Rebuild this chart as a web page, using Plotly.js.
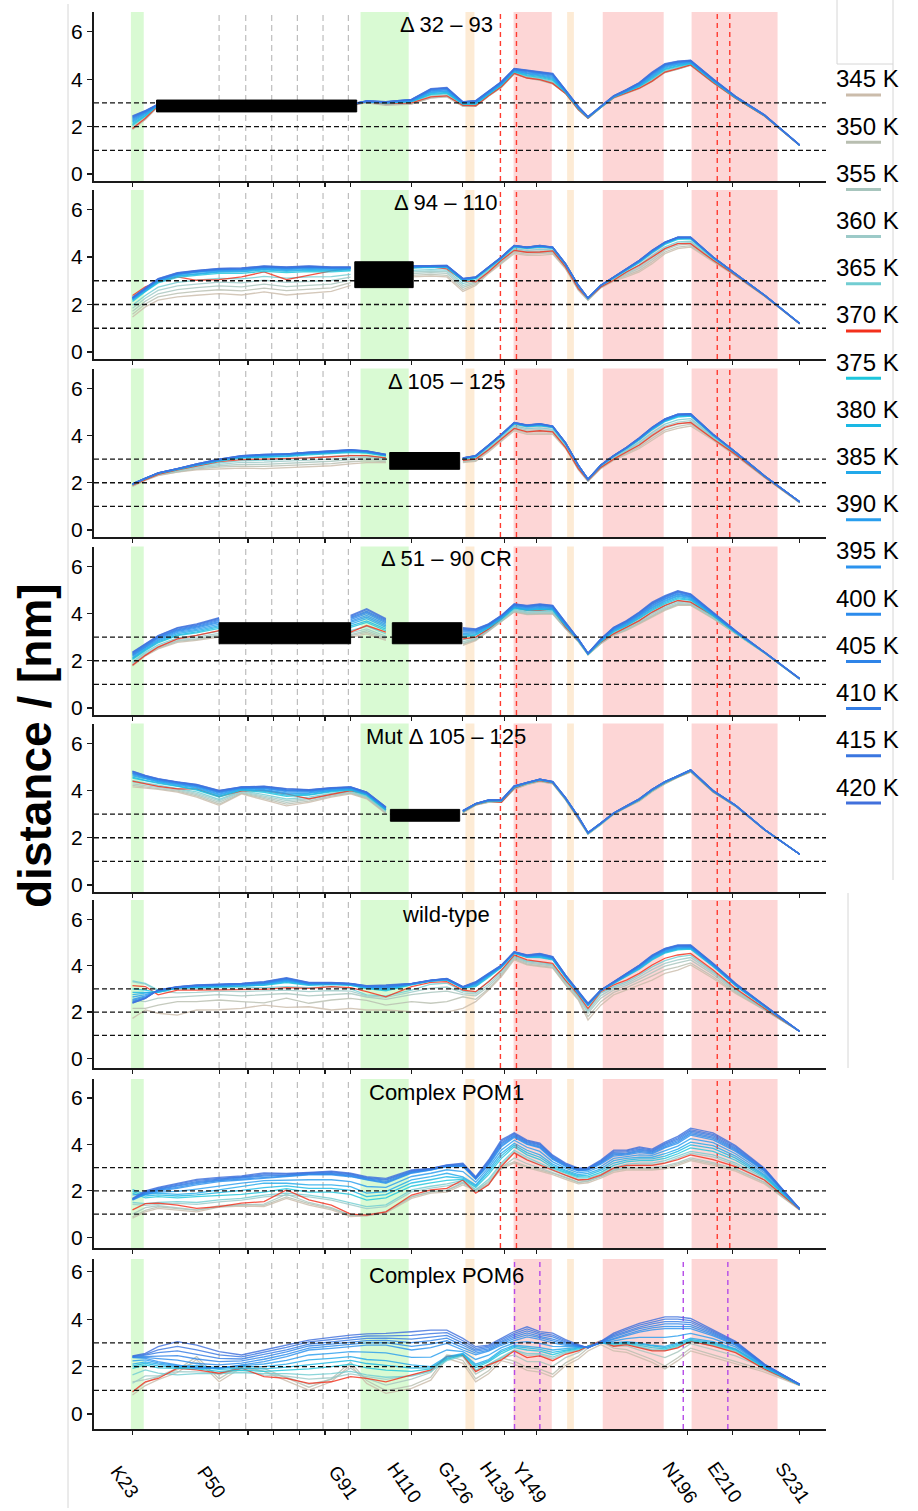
<!DOCTYPE html>
<html><head><meta charset="utf-8">
<script src="https://cdn.plot.ly/plotly-3.0.1.min.js"></script>
<style>html,body{margin:0;padding:0;background:#fff}#chart{width:918px;height:1511px}</style>
</head><body><div id="chart"></div>
<script>
const _ = null;
const residues = [23,27,31,37,43,50,57,64,71,78,85,91,96,102,110,116,121,126,130,134,138,142,146,150,154,158,162,165,169,173,177,181,185,189,193,197,204,211,220,231];
const temperatures = ['345 K','350 K','355 K','360 K','365 K','370 K','375 K','380 K','385 K','390 K','395 K','400 K','405 K','410 K','415 K','420 K'];
const lineColors = ['#cbbcab','#b8beb0','#a7c5bd','#9ccac8','#72cdd2','#f3301c','#1ec6dc','#1ab8e4','#22a9ea','#299eee','#2c93ee','#2b8bec','#2f84e8','#347de4','#3a76e0','#4170dc'];
const tickResidues = [23,50,59,67,75,83,91,110,126,139,149,196,210,231];
const tickLabels = ['K23','P50','','','','','G91','H110','G126','H139','Y149','N196','E210','S231'];
const panelTitles = ['Δ 32 – 93','Δ 94 – 110','Δ 105 – 125','Δ 51 – 90 CR','Mut Δ 105 – 125','wild-type','Complex POM1','Complex POM6'];
const greenBands = [[22.5,26.5],[94.1,109.1]];
const orangeBands = [[126.8,129.6],[158.5,160.6]];
const redBands = [[141.8,153.7],[169.6,188.6],[197.3,224.1]];
const octaLines = [50,58.3,66.4,74.4,82.4,90.3];
const redMarks = [137.7,142.7,205.3,209.2];
const purpleMarks = [142.1,150,194.7,208.6];
const deletions = [
  [[30.5,92.9,2.62,3.12]],
  [[92.3,110.5,2.71,3.8]],
  [[103.2,125,2.57,3.28]],
  [[50,91,2.72,3.61],[104,125.7,2.72,3.61]],
  [[103.4,125,2.7,3.2]],
  [],[],[]
];

const d32_93 = [
[1.88,2.30,2.85,_,_,_,_,_,_,_,_,2.90,3.00,2.90,2.95,3.20,3.25,2.85,2.85,3.28,3.65,4.22,4.05,3.95,3.80,3.40,2.70,2.35,2.80,3.20,3.40,3.60,3.90,4.28,4.42,4.58,3.85,3.20,2.45,1.20],
[1.90,2.31,2.86,_,_,_,_,_,_,_,_,2.90,3.01,2.92,2.96,3.21,3.27,2.86,2.86,3.29,3.66,4.23,4.06,3.96,3.81,3.40,2.71,2.35,2.81,3.21,3.41,3.61,3.91,4.29,4.43,4.59,3.85,3.20,2.45,1.20],
[1.93,2.34,2.87,_,_,_,_,_,_,_,_,2.91,3.02,2.93,2.98,3.24,3.29,2.88,2.87,3.30,3.67,4.24,4.07,3.98,3.83,3.41,2.72,2.36,2.82,3.22,3.42,3.63,3.93,4.31,4.45,4.60,3.86,3.21,2.46,1.20],
[2.00,2.40,2.89,_,_,_,_,_,_,_,_,2.91,3.04,2.97,3.02,3.30,3.34,2.92,2.90,3.32,3.70,4.27,4.09,4.01,3.86,3.42,2.74,2.37,2.83,3.23,3.44,3.66,3.96,4.34,4.48,4.62,3.88,3.22,2.46,1.21],
[2.05,2.44,2.90,_,_,_,_,_,_,_,_,2.92,3.05,2.99,3.04,3.34,3.38,2.95,2.93,3.34,3.72,4.29,4.12,4.04,3.89,3.43,2.75,2.38,2.83,3.24,3.46,3.68,3.99,4.37,4.50,4.63,3.89,3.22,2.47,1.21],
[1.92,2.35,2.88,_,_,_,_,_,_,_,_,2.90,3.04,2.97,3.00,3.25,3.30,2.90,2.88,3.30,3.68,4.25,4.05,3.98,3.82,3.40,2.72,2.36,2.82,3.22,3.42,3.62,3.92,4.30,4.45,4.60,3.86,3.20,2.45,1.20],
[2.08,2.45,2.90,_,_,_,_,_,_,_,_,2.92,3.05,2.99,3.05,3.36,3.41,2.95,2.95,3.36,3.75,4.31,4.15,4.08,3.95,3.45,2.76,2.38,2.83,3.24,3.46,3.69,4.03,4.41,4.54,4.66,3.91,3.22,2.47,1.21],
[2.13,2.48,2.91,_,_,_,_,_,_,_,_,2.92,3.05,3.00,3.06,3.39,3.44,2.96,2.97,3.38,3.77,4.33,4.18,4.12,3.99,3.46,2.77,2.38,2.84,3.25,3.48,3.72,4.07,4.44,4.57,4.68,3.92,3.23,2.47,1.21],
[2.19,2.52,2.92,_,_,_,_,_,_,_,_,2.93,3.06,3.01,3.08,3.43,3.48,2.98,2.99,3.40,3.79,4.35,4.22,4.15,4.04,3.48,2.79,2.39,2.84,3.26,3.49,3.74,4.11,4.48,4.61,4.70,3.94,3.24,2.48,1.21],
[2.24,2.55,2.92,_,_,_,_,_,_,_,_,2.93,3.06,3.02,3.09,3.46,3.51,2.99,3.01,3.42,3.81,4.37,4.25,4.18,4.08,3.49,2.80,2.40,2.84,3.27,3.50,3.76,4.15,4.52,4.64,4.72,3.96,3.25,2.48,1.21],
[2.29,2.58,2.93,_,_,_,_,_,_,_,_,2.94,3.07,3.03,3.11,3.50,3.55,3.01,3.03,3.44,3.83,4.39,4.28,4.22,4.12,3.51,2.81,2.40,2.85,3.28,3.52,3.79,4.19,4.55,4.67,4.74,3.97,3.26,2.49,1.21],
[2.33,2.61,2.93,_,_,_,_,_,_,_,_,2.94,3.07,3.03,3.12,3.52,3.57,3.02,3.05,3.46,3.85,4.41,4.31,4.25,4.16,3.52,2.82,2.41,2.85,3.28,3.53,3.81,4.22,4.58,4.69,4.76,3.98,3.26,2.49,1.22],
[2.37,2.63,2.94,_,_,_,_,_,_,_,_,2.94,3.07,3.04,3.13,3.55,3.60,3.03,3.07,3.47,3.87,4.42,4.33,4.27,4.19,3.53,2.83,2.41,2.85,3.29,3.54,3.82,4.24,4.61,4.71,4.77,4.00,3.27,2.49,1.22],
[2.40,2.65,2.94,_,_,_,_,_,_,_,_,2.95,3.08,3.04,3.14,3.57,3.62,3.04,3.08,3.48,3.88,4.43,4.35,4.29,4.21,3.54,2.84,2.42,2.86,3.29,3.55,3.84,4.26,4.62,4.73,4.78,4.00,3.27,2.50,1.22],
[2.43,2.66,2.95,_,_,_,_,_,_,_,_,2.95,3.08,3.05,3.15,3.58,3.63,3.04,3.09,3.49,3.89,4.44,4.37,4.31,4.23,3.55,2.85,2.42,2.86,3.30,3.56,3.85,4.28,4.64,4.75,4.79,4.01,3.28,2.50,1.22],
[2.45,2.68,2.95,_,_,_,_,_,_,_,_,2.95,3.08,3.05,3.15,3.60,3.65,3.05,3.10,3.50,3.90,4.45,4.38,4.32,4.25,3.55,2.85,2.42,2.86,3.30,3.56,3.86,4.30,4.66,4.76,4.80,4.02,3.28,2.50,1.22]
];

const d94_110 = [
[1.47,1.90,2.18,2.32,2.39,2.46,2.40,2.53,2.40,2.46,2.55,2.80,_,_,3.16,3.20,3.16,2.55,2.80,3.30,3.72,4.14,4.07,4.07,4.12,3.50,2.60,2.18,2.70,2.98,3.16,3.37,3.72,4.14,4.35,4.42,3.80,3.20,2.35,1.18],
[1.59,2.02,2.32,2.47,2.55,2.62,2.57,2.69,2.58,2.63,2.70,2.92,_,_,3.23,3.27,3.23,2.63,2.85,3.34,3.76,4.19,4.12,4.13,4.17,3.53,2.63,2.19,2.72,3.01,3.21,3.44,3.80,4.21,4.42,4.48,3.83,3.22,2.36,1.18],
[1.72,2.14,2.45,2.63,2.71,2.78,2.74,2.86,2.75,2.81,2.86,3.03,_,_,3.30,3.34,3.31,2.72,2.91,3.38,3.80,4.25,4.18,4.20,4.21,3.57,2.66,2.21,2.73,3.03,3.27,3.52,3.89,4.29,4.50,4.55,3.86,3.23,2.37,1.19],
[1.84,2.26,2.59,2.78,2.86,2.94,2.91,3.02,2.93,2.98,3.01,3.15,_,_,3.37,3.40,3.38,2.80,2.96,3.43,3.85,4.30,4.23,4.26,4.26,3.60,2.69,2.22,2.75,3.06,3.32,3.59,3.97,4.36,4.57,4.61,3.89,3.25,2.37,1.19],
[1.97,2.38,2.73,2.93,3.02,3.10,3.08,3.18,3.11,3.16,3.17,3.27,_,_,3.44,3.47,3.45,2.88,3.02,3.47,3.89,4.35,4.28,4.32,4.30,3.63,2.73,2.23,2.77,3.09,3.37,3.66,4.06,4.43,4.64,4.67,3.92,3.26,2.38,1.19],
[2.38,2.74,2.95,3.16,3.02,3.05,3.16,3.37,3.05,3.25,3.42,3.52,_,_,3.55,3.58,3.50,3.02,2.95,3.37,3.86,4.28,4.20,4.21,4.26,3.58,2.67,2.25,2.74,3.02,3.37,3.65,4.00,4.35,4.56,4.56,3.86,3.23,2.37,1.19],
[2.13,2.54,2.91,3.14,3.23,3.31,3.31,3.40,3.34,3.39,3.37,3.42,_,_,3.53,3.56,3.55,2.99,3.09,3.52,3.94,4.42,4.35,4.41,4.36,3.68,2.77,2.25,2.79,3.12,3.44,3.76,4.17,4.53,4.74,4.76,3.96,3.28,2.39,1.20],
[2.18,2.58,2.95,3.19,3.28,3.36,3.37,3.46,3.40,3.45,3.43,3.46,_,_,3.55,3.58,3.58,3.02,3.11,3.54,3.96,4.44,4.37,4.43,4.38,3.69,2.78,2.26,2.80,3.13,3.46,3.79,4.20,4.56,4.77,4.78,3.97,3.28,2.39,1.20],
[2.20,2.60,2.98,3.22,3.31,3.39,3.40,3.49,3.44,3.48,3.46,3.49,_,_,3.56,3.60,3.59,3.03,3.12,3.55,3.97,4.45,4.38,4.44,4.38,3.69,2.78,2.26,2.80,3.14,3.47,3.80,4.21,4.57,4.78,4.79,3.98,3.29,2.39,1.20],
[2.23,2.63,3.01,3.25,3.35,3.42,3.44,3.52,3.47,3.52,3.49,3.51,_,_,3.58,3.61,3.61,3.05,3.13,3.55,3.97,4.46,4.39,4.45,4.39,3.70,2.79,2.26,2.80,3.14,3.48,3.82,4.23,4.59,4.80,4.80,3.98,3.29,2.40,1.20],
[2.24,2.64,3.03,3.27,3.37,3.45,3.46,3.54,3.50,3.54,3.51,3.53,_,_,3.59,3.62,3.62,3.06,3.13,3.56,3.98,4.47,4.40,4.46,4.40,3.70,2.80,2.26,2.80,3.15,3.49,3.83,4.24,4.60,4.81,4.81,3.99,3.29,2.40,1.20],
[2.26,2.66,3.04,3.29,3.39,3.47,3.48,3.57,3.52,3.56,3.53,3.54,_,_,3.60,3.63,3.63,3.07,3.14,3.57,3.99,4.47,4.40,4.47,4.41,3.71,2.80,2.27,2.80,3.15,3.49,3.84,4.25,4.61,4.82,4.82,3.99,3.30,2.40,1.20],
[2.27,2.67,3.05,3.30,3.40,3.48,3.49,3.58,3.53,3.57,3.54,3.55,_,_,3.60,3.63,3.63,3.08,3.14,3.57,3.99,4.48,4.41,4.47,4.41,3.71,2.80,2.27,2.81,3.15,3.50,3.84,4.26,4.61,4.82,4.82,4.00,3.30,2.40,1.20],
[2.28,2.68,3.06,3.31,3.41,3.49,3.51,3.59,3.55,3.59,3.55,3.56,_,_,3.61,3.64,3.64,3.08,3.15,3.58,4.00,4.48,4.41,4.48,4.41,3.71,2.81,2.27,2.81,3.16,3.50,3.85,4.27,4.62,4.83,4.83,4.00,3.30,2.40,1.20],
[2.29,2.69,3.08,3.33,3.43,3.51,3.53,3.61,3.57,3.61,3.57,3.57,_,_,3.62,3.65,3.65,3.09,3.16,3.58,4.00,4.49,4.42,4.49,4.42,3.72,2.81,2.27,2.81,3.16,3.51,3.86,4.28,4.63,4.84,4.84,4.00,3.30,2.40,1.20],
[2.30,2.70,3.09,3.34,3.44,3.52,3.54,3.62,3.58,3.62,3.58,3.58,_,_,3.62,3.65,3.65,3.10,3.16,3.58,4.00,4.49,4.42,4.49,4.42,3.72,2.81,2.27,2.81,3.16,3.51,3.86,4.28,4.63,4.84,4.84,4.00,3.30,2.40,1.20]
];

const d105_125 = [
[1.85,2.10,2.30,2.45,2.55,2.60,2.62,2.60,2.65,2.70,2.72,2.80,2.85,2.85,_,_,_,2.85,2.90,3.30,3.75,4.20,4.05,4.05,4.05,3.45,2.55,2.05,2.60,2.95,3.20,3.45,3.80,4.15,4.30,4.40,3.80,3.15,2.22,1.15],
[1.87,2.12,2.32,2.47,2.59,2.66,2.70,2.69,2.74,2.79,2.81,2.89,2.93,2.90,_,_,_,2.88,2.94,3.35,3.80,4.25,4.11,4.12,4.10,3.49,2.58,2.07,2.62,2.98,3.25,3.52,3.88,4.23,4.39,4.48,3.84,3.17,2.23,1.16],
[1.88,2.13,2.34,2.50,2.63,2.72,2.78,2.78,2.82,2.88,2.91,2.98,3.00,2.96,_,_,_,2.91,2.98,3.39,3.84,4.31,4.17,4.19,4.16,3.53,2.61,2.08,2.65,3.01,3.29,3.59,3.97,4.32,4.48,4.56,3.88,3.20,2.24,1.17],
[1.90,2.15,2.35,2.52,2.66,2.78,2.86,2.87,2.91,2.97,3.00,3.07,3.08,3.01,_,_,_,2.94,3.01,3.44,3.89,4.36,4.23,4.25,4.21,3.56,2.64,2.10,2.67,3.04,3.34,3.65,4.05,4.40,4.57,4.63,3.91,3.22,2.26,1.17],
[1.91,2.16,2.37,2.54,2.70,2.84,2.94,2.96,2.99,3.06,3.10,3.16,3.15,3.06,_,_,_,2.97,3.05,3.48,3.93,4.41,4.29,4.32,4.26,3.60,2.67,2.11,2.69,3.07,3.38,3.72,4.13,4.48,4.66,4.71,3.95,3.24,2.27,1.18],
[1.90,2.12,2.35,2.55,2.70,2.90,2.98,3.00,3.05,3.05,3.10,3.15,3.15,3.05,_,_,_,2.95,3.00,3.40,3.85,4.30,4.15,4.20,4.15,3.50,2.60,2.10,2.65,3.00,3.30,3.60,4.00,4.35,4.50,4.55,3.85,3.20,2.25,1.18],
[1.93,2.18,2.40,2.57,2.75,2.92,3.04,3.08,3.11,3.18,3.22,3.28,3.25,3.13,_,_,_,3.01,3.10,3.54,3.99,4.48,4.37,4.41,4.33,3.65,2.71,2.13,2.72,3.11,3.44,3.81,4.24,4.59,4.78,4.82,4.00,3.27,2.28,1.19],
[1.94,2.19,2.40,2.58,2.76,2.94,3.07,3.11,3.13,3.21,3.26,3.31,3.28,3.15,_,_,_,3.02,3.11,3.56,4.01,4.50,4.39,4.43,4.35,3.66,2.72,2.14,2.73,3.12,3.46,3.83,4.27,4.62,4.81,4.84,4.01,3.28,2.29,1.19],
[1.94,2.19,2.41,2.58,2.77,2.95,3.09,3.13,3.15,3.23,3.27,3.33,3.29,3.16,_,_,_,3.03,3.12,3.56,4.01,4.51,4.40,4.45,4.36,3.67,2.73,2.14,2.73,3.13,3.46,3.85,4.28,4.63,4.83,4.86,4.02,3.28,2.29,1.19],
[1.94,2.19,2.41,2.59,2.78,2.96,3.10,3.15,3.17,3.25,3.29,3.35,3.31,3.17,_,_,_,3.03,3.13,3.57,4.02,4.52,4.41,4.46,4.37,3.68,2.73,2.14,2.74,3.13,3.47,3.86,4.30,4.65,4.85,4.87,4.03,3.29,2.29,1.20],
[1.95,2.20,2.41,2.59,2.78,2.97,3.11,3.16,3.18,3.26,3.30,3.36,3.32,3.18,_,_,_,3.04,3.13,3.58,4.03,4.53,4.42,4.47,4.38,3.68,2.74,2.14,2.74,3.14,3.48,3.87,4.31,4.66,4.86,4.88,4.03,3.29,2.29,1.20],
[1.95,2.20,2.41,2.59,2.79,2.98,3.12,3.17,3.19,3.27,3.31,3.37,3.33,3.18,_,_,_,3.04,3.14,3.58,4.03,4.53,4.43,4.48,4.38,3.69,2.74,2.15,2.74,3.14,3.48,3.88,4.32,4.67,4.87,4.89,4.04,3.29,2.30,1.20],
[1.95,2.20,2.42,2.60,2.79,2.98,3.13,3.18,3.20,3.28,3.32,3.38,3.33,3.19,_,_,_,3.04,3.14,3.59,4.04,4.54,4.43,4.48,4.39,3.69,2.74,2.15,2.75,3.14,3.49,3.88,4.33,4.68,4.88,4.90,4.04,3.30,2.30,1.20],
[1.95,2.20,2.42,2.60,2.80,2.99,3.14,3.19,3.21,3.29,3.33,3.39,3.34,3.19,_,_,_,3.05,3.15,3.59,4.04,4.54,4.44,4.49,4.39,3.70,2.75,2.15,2.75,3.15,3.49,3.89,4.34,4.69,4.89,4.91,4.05,3.30,2.30,1.20],
[1.95,2.20,2.42,2.60,2.80,3.00,3.15,3.20,3.22,3.30,3.34,3.39,3.35,3.20,_,_,_,3.05,3.15,3.60,4.05,4.55,4.44,4.50,4.40,3.70,2.75,2.15,2.75,3.15,3.50,3.90,4.35,4.70,4.90,4.92,4.05,3.30,2.30,1.20],
[1.95,2.20,2.42,2.60,2.80,3.00,3.15,3.20,3.22,3.30,3.35,3.40,3.35,3.20,_,_,_,3.05,3.15,3.60,4.05,4.55,4.45,4.50,4.40,3.70,2.75,2.15,2.75,3.15,3.50,3.90,4.35,4.70,4.90,4.92,4.05,3.30,2.30,1.20]
];

const d51_90cr = [
[1.78,2.20,2.50,2.78,2.86,3.00,_,_,_,_,_,3.00,3.14,2.86,_,_,_,2.65,2.85,3.25,3.65,4.06,3.95,3.95,3.98,3.35,2.80,2.25,2.72,3.07,3.28,3.56,3.85,4.13,4.34,4.34,3.78,3.14,2.33,1.22],
[1.82,2.23,2.53,2.82,2.90,3.05,_,_,_,_,_,3.06,3.20,2.92,_,_,_,2.70,2.88,3.27,3.67,4.08,3.97,3.98,4.00,3.37,2.81,2.25,2.73,3.09,3.31,3.59,3.89,4.17,4.38,4.37,3.80,3.15,2.33,1.22],
[1.85,2.26,2.57,2.85,2.94,3.10,_,_,_,_,_,3.11,3.27,2.97,_,_,_,2.74,2.91,3.29,3.68,4.10,4.00,4.01,4.02,3.38,2.82,2.26,2.75,3.11,3.33,3.62,3.93,4.21,4.42,4.40,3.81,3.16,2.33,1.22],
[1.90,2.30,2.61,2.90,3.00,3.16,_,_,_,_,_,3.18,3.35,3.04,_,_,_,2.80,2.95,3.31,3.70,4.13,4.03,4.04,4.05,3.41,2.83,2.26,2.76,3.14,3.36,3.66,3.98,4.26,4.47,4.44,3.84,3.17,2.34,1.23],
[1.96,2.36,2.67,2.97,3.07,3.25,_,_,_,_,_,3.28,3.46,3.14,_,_,_,2.88,3.00,3.34,3.73,4.17,4.07,4.09,4.09,3.43,2.84,2.27,2.78,3.18,3.41,3.71,4.04,4.32,4.53,4.49,3.86,3.18,2.34,1.23],
[1.81,2.23,2.58,2.93,3.07,3.28,_,_,_,_,_,3.21,3.49,3.21,_,_,_,2.93,3.00,3.35,3.78,4.27,4.13,4.13,4.20,3.42,2.86,2.30,2.79,3.14,3.42,3.70,4.06,4.34,4.55,4.48,3.92,3.21,2.35,1.23],
[2.05,2.43,2.76,3.06,3.18,3.37,_,_,_,_,_,3.41,3.62,3.27,_,_,_,2.99,3.08,3.39,3.77,4.22,4.13,4.16,4.14,3.48,2.86,2.28,2.81,3.23,3.47,3.79,4.13,4.41,4.62,4.56,3.91,3.20,2.35,1.23],
[2.09,2.47,2.80,3.10,3.22,3.43,_,_,_,_,_,3.48,3.69,3.34,_,_,_,3.04,3.11,3.41,3.79,4.24,4.15,4.19,4.17,3.50,2.87,2.29,2.83,3.25,3.50,3.82,4.18,4.46,4.67,4.59,3.93,3.21,2.35,1.24],
[2.13,2.51,2.84,3.15,3.28,3.49,_,_,_,_,_,3.55,3.78,3.41,_,_,_,3.10,3.15,3.44,3.81,4.27,4.18,4.23,4.20,3.52,2.88,2.29,2.85,3.28,3.53,3.86,4.23,4.51,4.72,4.63,3.95,3.22,2.35,1.24],
[2.18,2.55,2.88,3.20,3.33,3.55,_,_,_,_,_,3.62,3.85,3.48,_,_,_,3.15,3.19,3.46,3.83,4.29,4.21,4.26,4.22,3.54,2.89,2.30,2.86,3.30,3.56,3.90,4.27,4.55,4.76,4.67,3.97,3.23,2.36,1.24],
[2.22,2.58,2.92,3.24,3.38,3.61,_,_,_,_,_,3.68,3.92,3.54,_,_,_,3.21,3.22,3.48,3.85,4.32,4.24,4.29,4.25,3.56,2.90,2.30,2.88,3.33,3.59,3.93,4.32,4.60,4.81,4.70,3.99,3.24,2.36,1.24],
[2.25,2.62,2.96,3.28,3.42,3.66,_,_,_,_,_,3.74,3.99,3.60,_,_,_,3.25,3.25,3.50,3.87,4.34,4.26,4.32,4.27,3.57,2.90,2.31,2.89,3.35,3.62,3.96,4.35,4.63,4.84,4.73,4.00,3.25,2.36,1.24],
[2.29,2.65,2.99,3.31,3.46,3.71,_,_,_,_,_,3.79,4.05,3.65,_,_,_,3.30,3.28,3.52,3.88,4.36,4.29,4.35,4.29,3.59,2.91,2.31,2.90,3.37,3.64,3.99,4.39,4.67,4.88,4.76,4.02,3.26,2.36,1.25],
[2.32,2.67,3.02,3.34,3.50,3.75,_,_,_,_,_,3.84,4.10,3.70,_,_,_,3.33,3.31,3.53,3.90,4.38,4.30,4.37,4.31,3.60,2.92,2.31,2.91,3.39,3.66,4.02,4.42,4.70,4.91,4.79,4.03,3.27,2.37,1.25],
[2.35,2.70,3.05,3.38,3.53,3.79,_,_,_,_,_,3.88,4.16,3.74,_,_,_,3.37,3.33,3.55,3.91,4.40,4.32,4.39,4.33,3.62,2.92,2.32,2.92,3.41,3.68,4.04,4.45,4.73,4.94,4.81,4.05,3.27,2.37,1.25],
[2.37,2.72,3.07,3.40,3.56,3.82,_,_,_,_,_,3.92,4.20,3.78,_,_,_,3.40,3.35,3.56,3.92,4.41,4.34,4.41,4.34,3.63,2.93,2.32,2.93,3.42,3.70,4.06,4.48,4.76,4.97,4.83,4.06,3.28,2.37,1.25]
];

const mut105_125 = [
[4.15,4.10,4.05,3.93,3.72,3.37,3.86,3.60,3.35,3.50,3.72,3.86,3.65,3.02,_,_,_,3.05,3.38,3.50,3.50,4.05,4.25,4.38,4.28,3.60,2.80,2.15,2.55,3.00,3.28,3.55,3.95,4.28,4.55,4.78,3.93,3.33,2.33,1.30],
[4.22,4.15,4.10,3.97,3.77,3.43,3.89,3.66,3.42,3.55,3.76,3.89,3.68,3.05,_,_,_,3.06,3.39,3.51,3.51,4.06,4.26,4.39,4.29,3.61,2.81,2.16,2.56,3.00,3.29,3.56,3.96,4.29,4.56,4.79,3.94,3.33,2.33,1.30],
[4.28,4.21,4.14,4.02,3.83,3.50,3.92,3.72,3.50,3.61,3.80,3.92,3.71,3.08,_,_,_,3.07,3.39,3.52,3.52,4.08,4.27,4.40,4.30,3.62,2.82,2.16,2.56,3.01,3.29,3.57,3.97,4.30,4.56,4.80,3.94,3.34,2.34,1.30],
[4.35,4.26,4.19,4.06,3.88,3.56,3.95,3.77,3.57,3.66,3.84,3.95,3.73,3.10,_,_,_,3.08,3.40,3.53,3.53,4.09,4.28,4.41,4.31,3.63,2.83,2.17,2.57,3.01,3.30,3.58,3.98,4.31,4.57,4.81,3.95,3.34,2.34,1.30],
[4.42,4.32,4.23,4.10,3.94,3.62,3.98,3.83,3.64,3.72,3.88,3.98,3.76,3.13,_,_,_,3.09,3.41,3.54,3.54,4.11,4.29,4.42,4.32,3.64,2.84,2.18,2.58,3.02,3.31,3.59,3.99,4.32,4.58,4.82,3.96,3.35,2.34,1.30],
[4.40,4.29,4.17,4.07,4.07,3.74,3.98,4.00,3.86,3.65,3.84,4.00,3.86,3.19,_,_,_,3.10,3.40,3.55,3.50,4.10,4.30,4.42,4.32,3.65,2.85,2.20,2.60,3.02,3.30,3.60,4.00,4.33,4.58,4.82,3.95,3.35,2.35,1.30],
[4.52,4.40,4.30,4.17,4.02,3.72,4.02,3.92,3.75,3.80,3.94,4.02,3.80,3.17,_,_,_,3.11,3.42,3.56,3.56,4.13,4.31,4.44,4.34,3.66,2.86,2.19,2.59,3.03,3.32,3.61,4.01,4.34,4.59,4.84,3.97,3.36,2.35,1.30],
[4.57,4.43,4.33,4.20,4.05,3.76,4.04,3.96,3.80,3.83,3.97,4.04,3.82,3.19,_,_,_,3.11,3.42,3.56,3.56,4.14,4.32,4.45,4.34,3.66,2.86,2.19,2.59,3.03,3.32,3.61,4.01,4.34,4.59,4.84,3.97,3.36,2.35,1.30],
[4.62,4.48,4.37,4.23,4.10,3.81,4.06,4.01,3.86,3.88,4.00,4.06,3.85,3.22,_,_,_,3.12,3.43,3.57,3.57,4.15,4.32,4.46,4.35,3.67,2.87,2.20,2.60,3.04,3.33,3.62,4.02,4.35,4.60,4.85,3.98,3.37,2.35,1.30],
[4.66,4.51,4.39,4.26,4.13,3.85,4.08,4.04,3.90,3.91,4.02,4.08,3.86,3.23,_,_,_,3.12,3.43,3.57,3.57,4.16,4.33,4.46,4.36,3.68,2.88,2.20,2.60,3.04,3.33,3.62,4.03,4.36,4.60,4.86,3.98,3.37,2.35,1.30],
[4.70,4.54,4.42,4.28,4.16,3.89,4.10,4.08,3.95,3.94,4.05,4.10,3.88,3.25,_,_,_,3.13,3.44,3.58,3.58,4.17,4.34,4.47,4.37,3.68,2.88,2.21,2.61,3.04,3.34,3.63,4.04,4.37,4.61,4.86,3.99,3.37,2.35,1.30],
[4.73,4.57,4.44,4.30,4.19,3.92,4.11,4.10,3.99,3.97,4.07,4.11,3.89,3.26,_,_,_,3.14,3.44,3.59,3.59,4.18,4.34,4.47,4.37,3.69,2.89,2.21,2.61,3.05,3.34,3.64,4.04,4.37,4.61,4.87,3.99,3.38,2.35,1.30],
[4.76,4.59,4.46,4.32,4.21,3.94,4.12,4.13,4.01,3.99,4.08,4.12,3.91,3.27,_,_,_,3.14,3.45,3.59,3.59,4.19,4.35,4.48,4.38,3.69,2.89,2.21,2.62,3.05,3.35,3.64,4.05,4.38,4.62,4.87,4.00,3.38,2.35,1.30],
[4.79,4.61,4.48,4.34,4.23,3.97,4.14,4.15,4.04,4.01,4.10,4.14,3.92,3.29,_,_,_,3.15,3.45,3.60,3.60,4.19,4.35,4.48,4.38,3.70,2.90,2.22,2.62,3.05,3.35,3.65,4.05,4.38,4.62,4.88,4.00,3.38,2.35,1.30],
[4.81,4.63,4.49,4.35,4.25,3.99,4.15,4.17,4.07,4.03,4.11,4.15,3.93,3.30,_,_,_,3.15,3.45,3.60,3.60,4.20,4.35,4.48,4.38,3.70,2.90,2.22,2.62,3.05,3.35,3.65,4.05,4.38,4.62,4.88,4.00,3.38,2.35,1.30],
[4.82,4.64,4.50,4.36,4.26,4.00,4.15,4.18,4.08,4.04,4.12,4.15,3.93,3.30,_,_,_,3.15,3.45,3.60,3.60,4.20,4.35,4.48,4.38,3.70,2.90,2.22,2.62,3.05,3.35,3.65,4.05,4.38,4.62,4.88,4.00,3.38,2.35,1.30]
];

const wildType = [
[1.73,2.09,1.95,1.87,2.09,2.10,2.16,2.30,2.20,2.23,2.09,2.16,2.09,2.09,2.02,2.00,2.00,2.16,2.45,2.95,3.53,4.25,4.03,3.96,3.89,3.17,2.52,1.66,2.30,2.74,2.95,3.17,3.38,3.67,3.81,4.03,3.45,2.80,2.09,1.16],
[2.16,2.16,2.30,2.45,2.45,2.52,2.45,2.40,2.60,2.38,2.52,2.59,2.50,2.30,2.45,2.38,2.45,2.66,2.55,3.00,3.58,4.30,4.07,4.00,3.93,3.20,2.56,1.80,2.45,2.85,3.05,3.30,3.55,3.82,3.95,4.12,3.52,2.85,2.10,1.16],
[2.50,2.45,2.60,2.65,2.70,2.75,2.70,2.75,2.80,2.70,2.75,2.80,2.65,2.55,2.75,2.85,2.90,2.75,2.70,3.10,3.65,4.35,4.12,4.05,3.98,3.27,2.62,1.95,2.60,2.95,3.15,3.42,3.70,3.98,4.12,4.25,3.62,2.90,2.12,1.16],
[3.30,3.20,2.90,2.83,2.85,2.90,2.88,2.90,2.95,2.88,2.93,2.90,2.70,2.63,2.85,3.03,3.08,2.83,2.78,3.20,3.72,4.38,4.16,4.10,4.02,3.31,2.66,2.03,2.71,3.03,3.23,3.51,3.83,4.10,4.25,4.35,3.69,2.94,2.13,1.16],
[3.34,3.24,2.95,3.00,3.00,3.05,3.05,3.05,3.10,3.05,3.10,3.00,2.74,2.70,2.95,3.20,3.25,2.90,2.85,3.30,3.78,4.42,4.20,4.15,4.05,3.35,2.70,2.10,2.82,3.10,3.30,3.60,3.95,4.22,4.38,4.45,3.75,2.98,2.14,1.16],
[3.14,3.10,2.74,2.95,2.95,2.95,2.95,2.98,3.05,3.02,3.10,3.05,2.88,2.66,3.10,3.28,3.31,2.95,2.88,3.31,3.81,4.46,4.25,4.17,4.10,3.38,2.74,2.16,2.88,3.17,3.38,3.67,4.03,4.32,4.46,4.53,3.81,3.02,2.16,1.16],
[3.00,2.95,2.85,3.03,3.06,3.08,3.10,3.15,3.27,3.15,3.19,3.15,3.01,2.92,3.17,3.33,3.38,3.03,3.10,3.49,3.92,4.53,4.36,4.35,4.25,3.49,2.81,2.27,2.92,3.24,3.53,3.85,4.25,4.54,4.68,4.71,3.96,3.13,2.23,1.16],
[2.85,2.85,2.85,3.04,3.08,3.10,3.12,3.17,3.30,3.17,3.20,3.16,3.03,2.96,3.18,3.34,3.39,3.04,3.13,3.52,3.94,4.54,4.37,4.38,4.27,3.51,2.82,2.29,2.92,3.25,3.55,3.88,4.28,4.57,4.71,4.74,3.98,3.15,2.24,1.16],
[2.75,2.80,2.88,3.05,3.10,3.12,3.14,3.20,3.33,3.19,3.22,3.18,3.05,3.00,3.19,3.35,3.40,3.05,3.16,3.55,3.96,4.55,4.39,4.41,4.29,3.53,2.83,2.31,2.93,3.26,3.57,3.91,4.31,4.60,4.74,4.77,4.00,3.17,2.25,1.16],
[2.65,2.75,2.90,3.06,3.11,3.13,3.16,3.22,3.36,3.21,3.23,3.19,3.07,3.03,3.20,3.35,3.41,3.06,3.19,3.57,3.97,4.56,4.40,4.43,4.31,3.54,2.84,2.32,2.93,3.27,3.59,3.93,4.34,4.63,4.77,4.79,4.02,3.18,2.26,1.16],
[2.55,2.70,2.92,3.07,3.12,3.15,3.18,3.24,3.39,3.22,3.24,3.20,3.08,3.06,3.21,3.36,3.42,3.07,3.22,3.59,3.98,4.57,4.41,4.45,4.33,3.55,2.85,2.33,2.93,3.28,3.61,3.95,4.37,4.66,4.80,4.81,4.04,3.19,2.27,1.16],
[2.50,2.65,2.93,3.07,3.13,3.16,3.19,3.25,3.41,3.24,3.25,3.21,3.10,3.08,3.22,3.36,3.43,3.07,3.24,3.61,3.99,4.58,4.42,4.47,4.34,3.56,2.86,2.34,2.94,3.29,3.62,3.97,4.39,4.68,4.82,4.83,4.05,3.20,2.28,1.16],
[2.45,2.62,2.94,3.08,3.14,3.17,3.21,3.27,3.43,3.25,3.26,3.22,3.11,3.11,3.22,3.37,3.43,3.08,3.26,3.63,4.00,4.58,4.43,4.49,4.36,3.57,2.86,2.35,2.94,3.29,3.64,3.99,4.41,4.70,4.84,4.85,4.07,3.21,2.28,1.16],
[2.42,2.60,2.95,3.09,3.15,3.18,3.22,3.28,3.45,3.26,3.27,3.22,3.12,3.13,3.23,3.37,3.44,3.09,3.28,3.64,4.01,4.59,4.44,4.50,4.37,3.58,2.87,2.36,2.94,3.30,3.65,4.00,4.43,4.72,4.86,4.86,4.08,3.22,2.29,1.16],
[2.40,2.59,2.95,3.09,3.16,3.19,3.23,3.30,3.46,3.27,3.27,3.23,3.13,3.15,3.23,3.38,3.44,3.09,3.29,3.66,4.02,4.59,4.45,4.52,4.38,3.59,2.87,2.37,2.95,3.30,3.66,4.02,4.44,4.73,4.87,4.88,4.09,3.23,2.29,1.16],
[2.38,2.59,2.96,3.10,3.17,3.20,3.24,3.31,3.48,3.28,3.28,3.24,3.14,3.17,3.24,3.38,3.45,3.10,3.31,3.67,4.03,4.60,4.46,4.53,4.39,3.60,2.88,2.38,2.95,3.31,3.67,4.03,4.46,4.75,4.89,4.89,4.10,3.24,2.30,1.16]
];

const complexPOM1 = [
[0.82,1.10,1.25,1.18,1.10,1.30,1.35,1.32,1.68,1.39,1.18,0.89,0.92,1.05,1.68,1.90,1.95,2.26,2.00,2.30,2.95,3.20,3.00,2.85,2.70,2.50,2.30,2.35,2.55,2.80,2.90,2.90,2.90,2.95,3.10,3.30,3.10,2.85,2.30,1.18],
[0.88,1.16,1.31,1.24,1.16,1.36,1.41,1.38,1.74,1.45,1.24,0.95,0.98,1.11,1.74,1.96,2.01,2.32,2.06,2.36,3.01,3.26,3.06,2.91,2.76,2.56,2.36,2.41,2.61,2.86,2.96,2.96,2.96,3.01,3.16,3.36,3.16,2.91,2.36,1.18],
[1.00,1.28,1.36,1.28,1.18,1.31,1.41,1.43,1.86,1.50,1.28,0.95,0.94,1.08,1.75,1.97,2.03,2.36,1.95,2.28,3.00,3.42,3.17,2.98,2.80,2.59,2.38,2.43,2.62,2.89,3.00,3.00,3.00,3.08,3.22,3.42,3.22,2.95,2.38,1.19],
[1.42,1.38,1.42,1.46,1.42,1.53,1.60,1.74,1.82,1.74,1.60,1.39,1.24,1.32,1.96,2.12,2.22,2.37,1.97,2.42,3.12,3.67,3.37,3.12,2.87,2.67,2.47,2.47,2.64,2.92,3.07,3.12,3.12,3.22,3.42,3.62,3.47,3.12,2.47,1.20],
[1.50,1.45,1.50,1.54,1.50,1.61,1.68,1.82,1.90,1.82,1.68,1.47,1.32,1.40,2.04,2.20,2.30,2.45,2.05,2.50,3.20,3.75,3.45,3.20,2.95,2.75,2.55,2.55,2.72,3.00,3.15,3.20,3.20,3.30,3.50,3.70,3.55,3.20,2.55,1.20],
[1.18,1.45,1.47,1.39,1.25,1.32,1.47,1.54,2.04,1.61,1.39,1.00,0.96,1.10,1.82,2.04,2.11,2.47,1.90,2.26,3.05,3.64,3.33,3.10,2.90,2.68,2.47,2.50,2.68,2.98,3.10,3.10,3.10,3.20,3.35,3.55,3.35,3.05,2.47,1.20],
[1.90,1.70,1.75,1.70,1.75,1.80,1.85,1.95,2.10,1.95,1.95,1.85,1.60,1.70,2.20,2.35,2.45,2.50,2.15,2.70,3.40,3.90,3.55,3.35,3.00,2.80,2.60,2.60,2.80,3.10,3.25,3.30,3.30,3.40,3.60,3.85,3.70,3.32,2.60,1.22],
[1.98,1.78,1.83,1.78,1.83,1.92,2.02,2.14,2.22,2.11,2.11,2.02,1.75,1.84,2.34,2.48,2.61,2.55,2.21,2.80,3.51,3.98,3.65,3.45,3.08,2.85,2.65,2.68,2.88,3.20,3.33,3.38,3.38,3.50,3.70,3.98,3.83,3.41,2.65,1.22],
[2.05,1.85,1.90,1.85,1.90,2.04,2.18,2.33,2.33,2.26,2.26,2.18,1.90,1.97,2.47,2.61,2.76,2.60,2.26,2.90,3.62,4.05,3.75,3.55,3.15,2.90,2.70,2.75,2.95,3.30,3.40,3.45,3.45,3.60,3.80,4.10,3.95,3.50,2.70,1.22],
[1.83,1.85,1.95,1.98,2.08,2.22,2.33,2.44,2.47,2.48,2.48,2.40,2.19,2.15,2.62,2.76,2.91,2.83,2.38,3.00,3.76,4.18,3.88,3.70,3.25,2.98,2.78,2.83,3.05,3.40,3.48,3.55,3.53,3.73,3.93,4.25,4.08,3.60,2.78,1.22],
[1.60,1.85,2.00,2.11,2.26,2.40,2.47,2.54,2.61,2.69,2.69,2.61,2.47,2.33,2.76,2.90,3.05,3.05,2.50,3.10,3.90,4.30,4.00,3.85,3.35,3.05,2.85,2.90,3.15,3.50,3.55,3.65,3.60,3.85,4.05,4.40,4.20,3.70,2.85,1.22],
[1.62,1.88,2.03,2.15,2.31,2.44,2.51,2.59,2.64,2.71,2.72,2.64,2.50,2.37,2.79,2.91,3.06,3.08,2.52,3.15,3.96,4.34,4.04,3.89,3.39,3.08,2.88,2.92,3.19,3.55,3.59,3.70,3.64,3.90,4.11,4.46,4.26,3.75,2.88,1.22],
[1.63,1.91,2.06,2.20,2.36,2.47,2.54,2.64,2.67,2.73,2.75,2.67,2.53,2.41,2.82,2.93,3.08,3.11,2.54,3.19,4.02,4.38,4.08,3.93,3.43,3.11,2.90,2.94,3.22,3.60,3.63,3.75,3.68,3.95,4.17,4.52,4.32,3.80,2.90,1.22],
[1.65,1.94,2.09,2.24,2.40,2.51,2.58,2.68,2.69,2.76,2.79,2.70,2.55,2.46,2.84,2.94,3.09,3.13,2.57,3.24,4.08,4.42,4.11,3.98,3.46,3.14,2.93,2.96,3.26,3.66,3.68,3.80,3.72,4.00,4.23,4.58,4.38,3.85,2.93,1.22],
[1.66,1.97,2.12,2.29,2.45,2.54,2.61,2.73,2.72,2.78,2.82,2.73,2.58,2.50,2.87,2.96,3.11,3.16,2.59,3.28,4.14,4.46,4.15,4.02,3.50,3.17,2.95,2.98,3.29,3.71,3.72,3.85,3.76,4.05,4.29,4.64,4.44,3.90,2.95,1.22],
[1.68,2.00,2.15,2.33,2.50,2.58,2.65,2.78,2.75,2.80,2.85,2.76,2.61,2.54,2.90,2.97,3.12,3.19,2.61,3.33,4.20,4.50,4.19,4.06,3.54,3.20,2.98,3.00,3.33,3.76,3.76,3.90,3.80,4.10,4.35,4.70,4.50,3.95,2.98,1.22]
];

const complexPOM6 = [
[0.80,1.20,1.45,1.75,2.30,1.36,1.95,1.80,1.40,1.01,1.36,2.07,1.29,0.87,1.08,1.43,2.35,2.14,1.36,1.70,2.25,2.11,1.84,1.77,1.56,2.04,2.32,2.66,2.93,2.66,2.60,2.38,2.18,1.90,2.25,2.66,2.38,2.11,1.77,1.20],
[0.92,1.32,1.57,1.87,2.42,1.48,2.07,1.92,1.52,1.13,1.48,2.19,1.41,0.99,1.20,1.55,2.47,2.26,1.48,1.82,2.37,2.23,1.96,1.89,1.68,2.16,2.44,2.78,3.05,2.78,2.72,2.50,2.30,2.02,2.37,2.78,2.50,2.23,1.85,1.21],
[1.36,1.45,1.58,1.94,2.18,1.64,2.04,1.79,1.55,1.25,1.46,1.93,1.50,1.22,1.47,1.75,2.49,2.42,1.68,1.99,2.37,2.49,2.21,2.21,2.01,2.38,2.59,2.86,3.10,2.86,2.87,2.69,2.52,2.38,2.62,2.97,2.72,2.45,1.94,1.22],
[1.30,1.61,1.61,1.79,1.78,1.71,1.84,1.64,1.60,1.47,1.53,1.69,1.58,1.46,1.63,1.83,2.34,2.47,1.82,2.09,2.34,2.68,2.47,2.50,2.33,2.56,2.68,2.86,3.04,2.88,2.94,2.82,2.69,2.68,2.82,3.06,2.88,2.62,1.91,1.22],
[1.65,1.86,1.72,1.65,1.70,1.70,1.75,1.70,1.70,1.65,1.70,1.80,1.65,1.55,1.60,1.80,2.25,2.45,1.85,2.10,2.40,2.70,2.55,2.55,2.40,2.60,2.70,2.85,3.00,2.90,2.95,2.85,2.72,2.70,2.85,3.05,2.90,2.65,1.92,1.22],
[0.94,1.36,1.50,1.93,1.86,1.72,1.93,1.58,1.50,1.29,1.36,1.58,1.50,1.36,1.65,1.86,2.42,2.49,1.79,2.07,2.28,2.66,2.38,2.45,2.25,2.52,2.66,2.86,3.07,2.86,2.93,2.79,2.66,2.66,2.79,3.07,2.86,2.59,1.90,1.22],
[1.93,2.07,1.95,1.93,1.90,1.80,1.85,1.80,1.85,1.90,2.00,2.10,1.95,1.85,1.80,1.90,2.30,2.50,1.95,2.20,2.55,2.80,2.70,2.65,2.50,2.65,2.75,2.85,3.00,2.95,2.98,2.90,2.80,2.75,2.90,3.10,2.95,2.70,1.95,1.22],
[2.02,2.14,2.03,1.97,1.98,1.88,1.93,1.90,1.98,2.09,2.18,2.26,2.13,2.05,1.94,1.95,2.36,2.53,2.03,2.25,2.63,2.85,2.78,2.73,2.60,2.70,2.78,2.85,3.00,2.98,3.02,2.95,2.85,2.80,2.95,3.15,3.00,2.73,1.98,1.23],
[2.10,2.20,2.10,2.00,2.05,1.95,2.00,2.00,2.10,2.28,2.35,2.42,2.30,2.25,2.07,2.00,2.42,2.55,2.10,2.30,2.70,2.90,2.85,2.80,2.70,2.75,2.80,2.85,3.00,3.00,3.05,3.00,2.90,2.85,3.00,3.20,3.05,2.75,2.00,1.23],
[2.24,2.28,2.16,2.04,1.99,1.94,2.04,2.11,2.26,2.49,2.56,2.63,2.61,2.58,2.39,2.40,2.70,2.63,2.30,2.48,2.80,3.00,3.05,2.98,2.85,2.83,2.83,2.83,3.00,3.08,3.18,3.23,3.23,3.23,3.30,3.40,3.18,2.83,2.03,1.24],
[2.38,2.35,2.21,2.07,1.93,1.93,2.07,2.21,2.42,2.70,2.77,2.84,2.91,2.91,2.70,2.80,2.98,2.70,2.50,2.65,2.90,3.10,3.25,3.15,3.00,2.90,2.85,2.80,3.00,3.15,3.30,3.45,3.55,3.60,3.60,3.60,3.30,2.90,2.05,1.25],
[2.39,2.39,2.34,2.27,2.13,2.07,2.15,2.31,2.52,2.78,2.86,2.94,3.00,3.01,2.85,2.95,3.09,2.80,2.57,2.70,2.96,3.18,3.34,3.22,3.08,2.95,2.86,2.80,3.01,3.20,3.36,3.52,3.63,3.70,3.70,3.69,3.35,2.93,2.06,1.25],
[2.41,2.43,2.46,2.46,2.32,2.21,2.24,2.41,2.62,2.87,2.95,3.04,3.10,3.11,3.01,3.10,3.20,2.90,2.64,2.75,3.02,3.25,3.42,3.28,3.16,3.00,2.88,2.80,3.03,3.25,3.43,3.60,3.71,3.80,3.80,3.77,3.40,2.97,2.07,1.25],
[2.42,2.48,2.59,2.66,2.52,2.35,2.32,2.50,2.71,2.95,3.05,3.13,3.19,3.20,3.16,3.24,3.32,2.99,2.70,2.81,3.07,3.33,3.51,3.35,3.25,3.04,2.90,2.79,3.04,3.31,3.49,3.67,3.80,3.90,3.90,3.86,3.45,3.00,2.09,1.25],
[2.44,2.52,2.71,2.85,2.71,2.49,2.41,2.60,2.81,3.04,3.14,3.23,3.29,3.30,3.32,3.39,3.43,3.09,2.77,2.86,3.13,3.40,3.59,3.41,3.33,3.09,2.91,2.79,3.06,3.36,3.56,3.75,3.88,4.00,4.00,3.94,3.50,3.04,2.10,1.25],
[2.45,2.56,2.84,3.05,2.91,2.63,2.49,2.70,2.91,3.12,3.23,3.33,3.38,3.40,3.47,3.54,3.54,3.19,2.84,2.91,3.19,3.48,3.68,3.48,3.41,3.14,2.93,2.79,3.07,3.41,3.62,3.82,3.96,4.10,4.10,4.03,3.55,3.07,2.11,1.25]
];

const panelData = [d32_93, d94_110, d105_125, d51_90cr, mut105_125, wildType, complexPOM1, complexPOM6];

// ---------- geometry (pixels of the 918 x 1511 page) ----------
const W = 918, H = 1511;
const fx = p => p / W, fy = p => 1 - p / H;
const plotLeft = 94, plotRight = 826;
const panelBox = [[12,181],[190,359],[368.5,537],[546.5,715],[723.5,892],[900,1068],[1079,1248],[1259,1429]];
const yRanges = [[-0.295,6.835],[-0.295,6.821],[-0.295,6.835],[-0.295,6.835],[-0.295,6.835],[-0.41,6.83],[-0.46,6.82],[-0.633,6.54]];
const titleY = [25,203,381,558,736,914,1092,1275];
const FONT = 'Liberation Sans, Arial, Helvetica, sans-serif';

const traces = [];
const shapes = [];
const annotations = [];
const layout = {
  width: W, height: H, margin: {l:0,r:0,t:0,b:0},
  paper_bgcolor: '#ffffff', plot_bgcolor: 'rgba(0,0,0,0)',
  showlegend: false, font: {family: FONT, color: '#000'}
};

for (let k = 0; k < 8; k++) {
  const sfx = k === 0 ? '' : String(k + 1);
  const xa = 'x' + sfx, ya = 'y' + sfx;
  layout['xaxis' + sfx] = {
    domain: [fx(plotLeft), fx(plotRight)], range: [11, 239.2], anchor: ya,
    showline: true, linecolor: '#1a1a1a', linewidth: 2, ticks: 'outside', ticklen: 4,
    tickcolor: '#1a1a1a', tickwidth: 1.2, tickvals: tickResidues, showticklabels: false,
    showgrid: false, zeroline: false, fixedrange: true
  };
  layout['yaxis' + sfx] = {
    domain: [fy(panelBox[k][1]), fy(panelBox[k][0])], range: yRanges[k], anchor: xa,
    showline: true, linecolor: '#1a1a1a', linewidth: 2, ticks: 'outside', ticklen: 5,
    tickcolor: '#1a1a1a', tickwidth: 1.2, tickvals: [0,2,4,6], ticktext: ['0','2','4','6'],
    tickfont: {size: 21, family: FONT, color: '#000'}, showgrid: false, zeroline: false, fixedrange: true
  };
  const band = (r, color) => shapes.push({type:'rect', xref: xa, yref: ya + ' domain', x0: r[0], x1: r[1], y0: 0, y1: 1, fillcolor: color, line: {width: 0}, layer: 'below'});
  greenBands.forEach(r => band(r, '#d9fad3'));
  orangeBands.forEach(r => band(r, '#fdebd5'));
  redBands.forEach(r => band(r, '#fdd6d6'));
  octaLines.forEach(v => shapes.push({type:'line', xref: xa, yref: ya + ' domain', x0: v, x1: v, y0: 0, y1: 1, line: {color: '#bdbdbd', width: 1.2, dash: '6px,4px'}, layer: 'below'}));
  const marks = k === 7 ? purpleMarks : redMarks;
  const mcol = k === 7 ? '#b54ae8' : '#ff3b30';
  marks.forEach(v => shapes.push({type:'line', xref: xa, yref: ya + ' domain', x0: v, x1: v, y0: 0, y1: 1, line: {color: mcol, width: 1.4, dash: '5px,4px'}, layer: 'below'}));
  [1,2,3].forEach(v => shapes.push({type:'line', xref: xa + ' domain', yref: ya, x0: 0, x1: 1, y0: v, y1: v, line: {color: '#111', width: 1.3, dash: '5px,3px'}, layer: 'above'}));
  deletions[k].forEach(d => shapes.push({type:'rect', xref: xa, yref: ya, x0: d[0], x1: d[1], y0: d[2], y1: d[3], fillcolor: '#000', line: {color: '#000', width: 1}, layer: 'above'}));

  const rows = panelData[k];
  rows.forEach((row, t) => {
    traces.push({
      type: 'scatter', mode: 'lines', x: residues, y: row, xaxis: xa, yaxis: ya,
      name: temperatures[t], line: {color: lineColors[t], width: 1.3}, opacity: 0.82,
      connectgaps: false, hoverinfo: 'skip', showlegend: false
    });
  });

  annotations.push({xref: 'paper', yref: 'paper', x: fx(446), y: fy(titleY[k]), text: panelTitles[k], showarrow: false,
    xanchor: 'center', yanchor: 'middle', font: {size: 22, family: FONT, color: '#000'}});
}

// bottom residue labels
tickResidues.forEach((r, i) => {
  if (!tickLabels[i]) return;
  annotations.push({xref: 'x8', yref: 'paper', x: r, y: fy(1482), xshift: -7, text: tickLabels[i], showarrow: false,
    textangle: 55, xanchor: 'center', yanchor: 'middle', font: {size: 19, family: FONT, color: '#000'}});
});

// y title
annotations.push({xref: 'paper', yref: 'paper', x: fx(35), y: fy(746), text: '<b>distance / [nm]</b>', showarrow: false,
  textangle: -90, xanchor: 'center', yanchor: 'middle', font: {size: 46, family: FONT, color: '#000'}});

// legend (text with a coloured line underneath)
temperatures.forEach((t, i) => {
  const yc = 79 + 47.2 * i;
  annotations.push({xref: 'paper', yref: 'paper', x: fx(867), y: fy(yc), text: t, showarrow: false,
    xanchor: 'center', yanchor: 'middle', font: {size: 24, family: FONT, color: '#000'}});
  shapes.push({type: 'line', xref: 'paper', yref: 'paper', x0: fx(846), x1: fx(881), y0: fy(yc + 16), y1: fy(yc + 16),
    line: {color: lineColors[i], width: 3}});
});

// faint frame lines from the composed figure
const frame = [[68,4,68,1508],[893,0,893,880],[837,0,837,64],[837,64,893,64],[848,893,848,1068]];
frame.forEach(f => shapes.push({type: 'line', xref: 'paper', yref: 'paper', x0: fx(f[0]), x1: fx(f[2]), y0: fy(f[1]), y1: fy(f[3]),
  line: {color: '#d6d6d6', width: 1}}));

layout.shapes = shapes;
layout.annotations = annotations;
Plotly.newPlot('chart', traces, layout, {staticPlot: true, displayModeBar: false});
</script>
</body></html>
